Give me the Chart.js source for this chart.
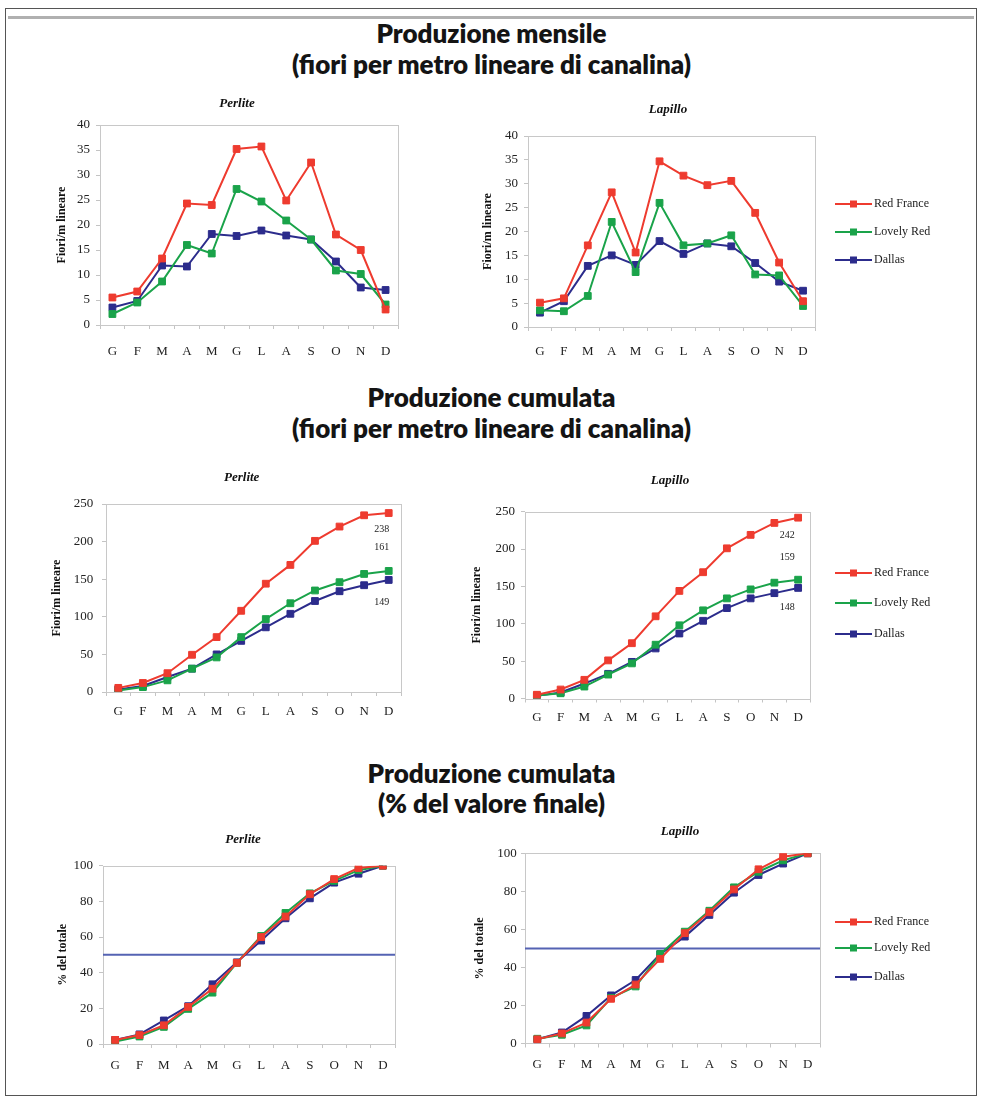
<!DOCTYPE html>
<html lang="it">
<head>
<meta charset="utf-8">
<title>Produzione di fiori</title>
<script src="https://cdn.jsdelivr.net/npm/chart.js@4.4.0/dist/chart.umd.min.js"></script>
<style>
  html, body { margin: 0; padding: 0; background: #fff; }
  body { width: 983px; height: 1103px; position: relative; overflow: hidden; }
  .frame { position: absolute; left: 5px; top: 8px; width: 972px; height: 1088px;
           border: 1px solid #555; box-sizing: border-box; }
  .frame::before { content: ''; position: absolute; left: 2px; right: 2px; top: 7px; height: 3px; background: #b0b0b0; }
  .head { position: absolute; left: 0; width: 983px; text-align: center; font-family: Lato, sans-serif;
          font-weight: 800; font-size: 26px; color: #141414; line-height: 30px; white-space: nowrap; }
  canvas { position: absolute; }
</style>
</head>
<body>
<div class="frame"></div>
<div class="head" style="top:18px">Produzione mensile</div>
<div class="head" style="top:49px">(fiori per metro lineare di canalina)</div>
<div class="head" style="top:382px">Produzione cumulata</div>
<div class="head" style="top:413px">(fiori per metro lineare di canalina)</div>
<div class="head" style="top:758px">Produzione cumulata</div>
<div class="head" style="top:788px">(% del valore finale)</div>

<canvas id="perliteMensile" width="400" height="275" style="left:30px;top:90px"></canvas>
<canvas id="lapilloMensile" width="530" height="275" style="left:450px;top:90px"></canvas>
<canvas id="perliteCumulata" width="400" height="275" style="left:30px;top:455px"></canvas>
<canvas id="lapilloCumulata" width="530" height="275" style="left:450px;top:455px"></canvas>
<canvas id="perlitePercento" width="400" height="275" style="left:30px;top:815px"></canvas>
<canvas id="lapilloPercento" width="530" height="275" style="left:450px;top:815px"></canvas>

<script>
// Mesi (Gennaio ... Dicembre)
const mesi = ['G', 'F', 'M', 'A', 'M', 'G', 'L', 'A', 'S', 'O', 'N', 'D'];
const varieta = ['Red France', 'Lovely Red', 'Dallas'];

// Produzione mensile (fiori/m lineare) - Perlite
const perliteMensileRedFrance = [5.5, 6.7, 13.3, 24.3, 24.0, 35.2, 35.7, 24.9, 32.5, 18.1, 15.0, 3.1];
const perliteMensileLovelyRed = [2.2, 4.5, 8.7, 16.0, 14.3, 27.2, 24.7, 20.9, 17.1, 10.9, 10.2, 4.1];
const perliteMensileDallas    = [3.5, 4.8, 11.9, 11.7, 18.2, 17.8, 18.9, 17.9, 17.1, 12.7, 7.5, 7.0];

// Produzione mensile (fiori/m lineare) - Lapillo
const lapilloMensileRedFrance = [5.1, 6.0, 17.1, 28.2, 15.6, 34.7, 31.7, 29.7, 30.6, 23.9, 13.5, 5.4];
const lapilloMensileLovelyRed = [3.5, 3.3, 6.5, 22.0, 11.5, 26.0, 17.1, 17.5, 19.2, 11.0, 10.8, 4.4];
const lapilloMensileDallas    = [3.0, 5.4, 12.8, 15.0, 13.0, 18.0, 15.3, 17.5, 16.9, 13.4, 9.5, 7.6];

// Produzione cumulata (fiori/m lineare) - Perlite
const perliteCumulataRedFrance = [5.5, 12, 25, 49.5, 73, 108, 144, 169, 201, 220, 235, 238];
const perliteCumulataLovelyRed = [2, 6.5, 15.5, 31, 46, 73, 97, 118, 135, 146, 157, 161];
const perliteCumulataDallas    = [3.5, 8, 20, 31, 50, 68, 86, 104, 121, 134, 142, 149];

// Produzione cumulata (fiori/m lineare) - Lapillo
const lapilloCumulataRedFrance = [5, 12, 25, 51, 74, 110, 144, 169, 201, 219, 235, 242];
const lapilloCumulataLovelyRed = [4, 7, 16, 32, 47, 72, 98, 118, 134, 146, 155, 159];
const lapilloCumulataDallas    = [3.5, 8, 20, 33, 49, 67, 87, 104, 121, 134, 141, 148];

// Produzione cumulata (% del valore finale) - Perlite
const perlitePercentoRedFrance = [2.3, 5.0, 10.5, 20.8, 31.0, 45.5, 60.0, 71.5, 84.0, 92.5, 98.7, 100];
const perlitePercentoLovelyRed = [1.4, 4.2, 9.6, 19.7, 28.8, 45.5, 60.6, 73.5, 84.5, 91.5, 97.5, 100];
const perlitePercentoDallas    = [2.3, 5.4, 13.2, 21.2, 33.5, 45.8, 58.0, 70.5, 81.7, 90.5, 95.5, 100];

// Produzione cumulata (% del valore finale) - Lapillo
const lapilloPercentoRedFrance = [2.2, 5.3, 11.0, 23.5, 31.0, 44.5, 58.0, 69.0, 81.0, 91.6, 98.2, 100];
const lapilloPercentoLovelyRed = [2.5, 4.6, 9.5, 24.0, 30.0, 47.0, 58.8, 69.8, 82.1, 90.3, 96.3, 100];
const lapilloPercentoDallas    = [2.2, 5.8, 14.5, 25.3, 33.4, 47.0, 56.2, 67.6, 79.3, 88.6, 94.6, 100];

// Soglia del 50% del valore finale
const sogliaMeta = 50;

const colori = ['#ee3b2f', '#1aa34a', '#2c2c8c'];
const serif = '"Liberation Serif", "Times New Roman", serif';

// Sottotitolo del grafico (Perlite / Lapillo)
const subtitlePlugin = {
  id: 'subtitleAt',
  afterDraw(chart, args, opts) {
    if (!opts || !opts.text) return;
    const ctx = chart.ctx;
    ctx.save();
    ctx.font = 'italic bold 13px ' + serif;
    ctx.fillStyle = '#111';
    ctx.textAlign = 'center';
    ctx.textBaseline = 'middle';
    ctx.fillText(opts.text, opts.x, opts.y);
    ctx.restore();
  }
};

// Bordo grigio dell'area del tracciato
const plotFrame = {
  id: 'plotFrame',
  beforeDatasetsDraw(chart) {
    const { ctx, chartArea: a } = chart;
    ctx.save();
    ctx.strokeStyle = '#c8c8c8';
    ctx.lineWidth = 1;
    ctx.strokeRect(Math.round(a.left) + 0.5, Math.round(a.top) + 0.5,
                   Math.round(a.right - a.left), Math.round(a.bottom - a.top));
    ctx.restore();
  }
};

// Linea orizzontale di riferimento (50%)
const refLine = {
  id: 'refLine',
  beforeDatasetsDraw(chart, args, opts) {
    if (!opts || opts.value == null) return;
    const { ctx, chartArea: a } = chart;
    const y = chart.scales.y.getPixelForValue(opts.value);
    ctx.save();
    ctx.strokeStyle = '#5563b3';
    ctx.lineWidth = 2;
    ctx.beginPath();
    ctx.moveTo(a.left, y);
    ctx.lineTo(a.right, y);
    ctx.stroke();
    ctx.restore();
  }
};

// Valore finale di ogni serie scritto accanto all'ultimo punto
const endLabels = {
  id: 'endLabels',
  afterDatasetsDraw(chart, args, opts) {
    if (!opts || !opts.offsets) return;
    const ctx = chart.ctx;
    ctx.save();
    ctx.font = '10px ' + serif;
    ctx.fillStyle = '#222';
    ctx.textAlign = 'center';
    ctx.textBaseline = 'middle';
    chart.data.datasets.forEach((ds, i) => {
      const meta = chart.getDatasetMeta(i);
      const pt = meta.data[meta.data.length - 1];
      const v = ds.data[ds.data.length - 1];
      ctx.fillText(String(Math.round(v)), pt.x + opts.dx, pt.y + opts.offsets[i]);
    });
    ctx.restore();
  }
};

// Legenda a destra: linea con marcatore e nome della varietà
const sideLegend = {
  id: 'sideLegend',
  afterDraw(chart, args, opts) {
    if (!opts || !opts.ys) return;
    const ctx = chart.ctx;
    ctx.save();
    ctx.font = '12px ' + serif;
    ctx.textBaseline = 'middle';
    ctx.textAlign = 'left';
    chart.data.datasets.forEach((ds, i) => {
      const y = opts.ys[i];
      ctx.strokeStyle = ds.borderColor;
      ctx.lineWidth = 2;
      ctx.beginPath();
      ctx.moveTo(opts.x1, y);
      ctx.lineTo(opts.x2, y);
      ctx.stroke();
      const m = (opts.x1 + opts.x2) / 2;
      ctx.fillStyle = ds.borderColor;
      ctx.fillRect(m - 3.5, y - 3.5, 7, 7);
      ctx.fillStyle = '#222';
      ctx.fillText(ds.label, opts.tx, y);
    });
    ctx.restore();
  }
};

Chart.register(subtitlePlugin, plotFrame, refLine, endLabels, sideLegend);

function serie(valori) {
  return valori.map((data, i) => ({
    label: varieta[i],
    data: data,
    borderColor: colori[i],
    backgroundColor: colori[i],
    borderWidth: 2,
    pointStyle: 'rect',
    pointRadius: 4.8,
    pointBorderWidth: 1,
    tension: 0
  }));
}

function grafico(id, g, valori, asse, extra) {
  return new Chart(document.getElementById(id), {
    type: 'line',
    data: { labels: mesi, datasets: serie(valori) },
    options: {
      responsive: false,
      animation: false,
      devicePixelRatio: 1,
      layout: { padding: { left: 0, top: g.top, right: g.right, bottom: 0 } },
      plugins: {
        legend: { display: false },
        tooltip: { enabled: false },
        title: { display: false },
        subtitleAt: { text: g.sub, x: g.subX, y: g.subY },
        refLine: extra.refLine || {},
        endLabels: extra.endLabels || {},
        sideLegend: extra.sideLegend || {}
      },
      scales: {
        x: {
          offset: true,
          border: { display: false },
          grid: { display: true, drawOnChartArea: false, offset: true, color: '#c4c4c4', tickLength: 4 },
          ticks: { color: '#222', font: { family: serif, size: 13 }, padding: g.xPad, maxRotation: 0, autoSkip: false },
          afterFit(s) { s.height = g.xH; }
        },
        y: {
          min: 0, max: asse.max,
          border: { display: false },
          grid: { display: true, drawOnChartArea: false, color: '#c4c4c4', tickLength: 4 },
          ticks: { stepSize: asse.step, color: '#222', font: { family: serif, size: 13 }, padding: g.yPad },
          title: { display: true, text: asse.title, color: '#111',
                   font: { family: serif, size: 12, weight: 'bold' },
                   padding: { top: g.yTitlePad, bottom: 0 } },
          afterFit(s) { s.width = g.yW; }
        }
      }
    }
  });
}

const asseMensile = { max: 40, step: 5, title: 'Fiori/m lineare' };
const asseCumulata = { max: 250, step: 50, title: 'Fiori/m lineare' };
const assePercento = { max: 100, step: 20, title: '% del totale' };

grafico('perliteMensile',
  { top: 35, right: 32, yW: 70, xH: 40, xPad: 15, yPad: 6, yTitlePad: 24.5, sub: 'Perlite', subX: 207, subY: 14 },
  [perliteMensileRedFrance, perliteMensileLovelyRed, perliteMensileDallas], asseMensile, {});

grafico('lapilloMensile',
  { top: 46, right: 165, yW: 78, xH: 38, xPad: 13, yPad: 6, yTitlePad: 30.8, sub: 'Lapillo', subX: 218, subY: 20 },
  [lapilloMensileRedFrance, lapilloMensileLovelyRed, lapilloMensileDallas], asseMensile,
  { sideLegend: { x1: 385, x2: 422, tx: 424, ys: [114, 142, 170] } });

grafico('perliteCumulata',
  { top: 49, right: 29, yW: 76, xH: 38, xPad: 8, yPad: 8.7, yTitlePad: 19.5, sub: 'Perlite', subX: 211.7, subY: 23 },
  [perliteCumulataRedFrance, perliteCumulataLovelyRed, perliteCumulataDallas], asseCumulata,
  { endLabels: { dx: -7, offsets: [16, -24, 22] } });

grafico('lapilloCumulata',
  { top: 56.7, right: 170, yW: 75, xH: 31.5, xPad: 7.7, yPad: 6, yTitlePad: 19.5, sub: 'Lapillo', subX: 220, subY: 25.7 },
  [lapilloCumulataRedFrance, lapilloCumulataLovelyRed, lapilloCumulataDallas], asseCumulata,
  { endLabels: { dx: -11, offsets: [18, -22, 19] },
    sideLegend: { x1: 385, x2: 422, tx: 424, ys: [118, 148, 179] } });

grafico('perlitePercento',
  { top: 50.7, right: 35, yW: 73, xH: 46, xPad: 10, yPad: 6, yTitlePad: 26, sub: 'Perlite', subX: 213, subY: 25 },
  [perlitePercentoRedFrance, perlitePercentoLovelyRed, perlitePercentoDallas], assePercento,
  { refLine: { value: sogliaMeta } });

grafico('lapilloPercento',
  { top: 38.3, right: 160, yW: 75, xH: 46.5, xPad: 9, yPad: 4.3, yTitlePad: 22.8, sub: 'Lapillo', subX: 230, subY: 17 },
  [lapilloPercentoRedFrance, lapilloPercentoLovelyRed, lapilloPercentoDallas], assePercento,
  { refLine: { value: sogliaMeta },
    sideLegend: { x1: 385, x2: 422, tx: 424, ys: [107, 133, 162] } });
</script>
</body>
</html>
